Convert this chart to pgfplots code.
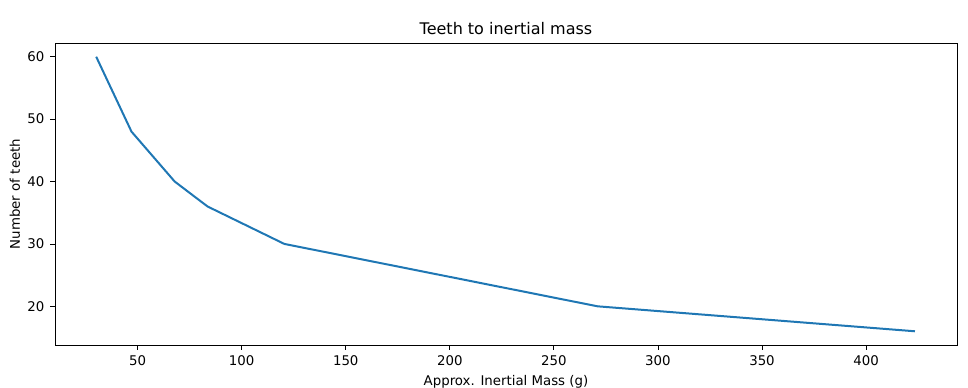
\documentclass[border=0pt]{standalone}
\usepackage{fontspec}
\setmainfont{DejaVu Sans}
\usepackage{pgfplots}
\pgfplotsset{compat=1.18}
\definecolor{mplblue}{HTML}{1F77B4}
\begin{document}
\begin{tikzpicture}
\begin{axis}[
  scale only axis,
  width=676.5pt, height=226.5pt,
  xmin=10.3, xmax=443.7,
  ymin=13.8, ymax=62.2,
  xtick={50,100,...,400},
  ytick={20,30,...,60},
  tick align=outside,
  major tick length=3.5pt,
  tick style={black, line width=0.6pt},
  axis line style={line width=0.6pt},
  xtick pos=bottom, ytick pos=left,
  /pgf/number format/assume math mode=true,
  ticklabel style={font=\fontsize{10}{12}\selectfont},
  xticklabel style={yshift=-1pt},
  yticklabel style={xshift=-1pt},
  title={Teeth to inertial mass},
  title style={font=\fontsize{12}{14}\selectfont, yshift=-3pt},
  xlabel={Approx. Inertial Mass (g)},
  ylabel={Number of teeth},
  label style={font=\fontsize{10}{12}\selectfont},
  xlabel style={yshift=-0.5pt},
  ylabel style={yshift=-1.5pt},
]
\addplot[mplblue, line width=1.5pt] coordinates {
(30.1,60) (47.05,48) (67.8,40) (83.6,36) (120.5,30) (271,20) (423.5,16)
};
\end{axis}
\pgfresetboundingbox
\path[use as bounding box] (-41.25pt,-31.5pt) rectangle (684.75pt,258.75pt);
\end{tikzpicture}
\end{document}
